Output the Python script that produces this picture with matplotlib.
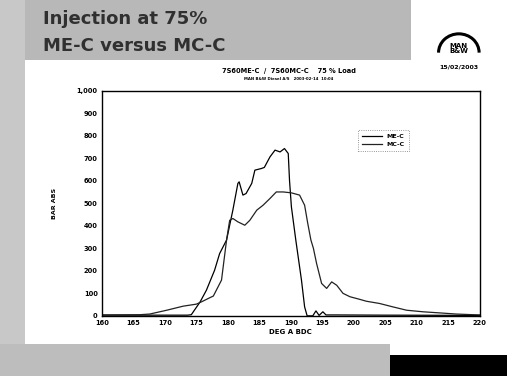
import numpy as np
import matplotlib.pyplot as plt
from matplotlib.patches import Rectangle, Arc

# ME-C: high, short injection
mec_deg = [160, 166, 170, 173.6, 174.2, 175.6, 176.6, 177.9, 178.7, 179.8, 180.8, 181.6, 181.8,
           182.4, 182.9, 183.8, 184.3, 185.3, 185.8, 186.7, 187.5, 188.3, 189.0, 189.6, 189.8,
           190.1, 190.8, 191.7, 192.2, 192.6, 193.5, 194.0, 194.5, 195.1, 195.6, 197, 205, 220]
mec_bar = [3, 3, 3, 3, 5, 62, 114, 203, 277, 337, 470, 589, 596,
           537, 544, 589, 648, 655, 660, 707, 737, 729, 744, 722, 603,
           485, 337, 159, 40, 0, 0, 22, 2, 18, 4, 4, 3, 2]

# MC-C: lower plateau, longer tail
mcc_deg = [160, 166, 167.6, 170.3, 172.9, 175.0, 175.8, 177.1, 177.7, 179.0, 179.8, 180.3, 180.8,
           181.6, 182.7, 183.5, 184.6, 185.6, 186.7, 187.7, 188.8, 190.1, 191.4, 192.2, 192.7,
           193.2, 193.6, 194.1, 194.9, 195.7, 196.5, 197.3, 198.3, 199.4, 201.0, 202.0, 204.1,
           206.2, 208.4, 211.0, 213.7, 216.3, 219, 220]
mcc_bar = [4, 5, 8, 25, 43, 52, 62, 80, 88, 159, 337, 425, 433,
           418, 403, 425, 470, 492, 522, 551, 551, 547, 537, 492, 411,
           337, 300, 233, 144, 122, 151, 136, 100, 85, 73, 65, 55,
           40, 25, 18, 13, 8, 5, 4]

x_ticks = list(range(160, 221, 5))
y_ticks = list(range(0, 1001, 100))

fig = plt.figure(figsize=(5.07, 3.76), dpi=100)
fig.patch.set_facecolor('white')

# halftone-ish header and footer bands
fig.patches.append(Rectangle((0, 0.84), 0.81, 0.16, transform=fig.transFigure,
                             facecolor='#b8b8b8', edgecolor='none', zorder=0))
fig.patches.append(Rectangle((0, 0.0), 0.05, 1.0, transform=fig.transFigure,
                             facecolor='#c8c8c8', edgecolor='none', zorder=0))
fig.patches.append(Rectangle((0, 0.0), 0.77, 0.085, transform=fig.transFigure,
                             facecolor='#bdbdbd', edgecolor='none', zorder=0))
fig.patches.append(Rectangle((0.77, 0.0), 0.23, 0.055, transform=fig.transFigure,
                             facecolor='black', edgecolor='none', zorder=0))

fig.text(0.085, 0.935, 'Injection at 75%', fontsize=13, fontweight='bold', color='#303030')
fig.text(0.085, 0.865, 'ME-C versus MC-C', fontsize=13, fontweight='bold', color='#303030')

# MAN B&W logo
fig.patches.append(Arc((0.905, 0.86), 0.08, 0.10, theta1=0, theta2=180, lw=2.2,
                       color='black', transform=fig.transFigure))
fig.text(0.905, 0.872, 'MAN\nB&W', fontsize=5, fontweight='bold', ha='center', va='center',
         linespacing=0.85)
fig.text(0.905, 0.818, '15/02/2003', fontsize=4.5, fontweight='bold', ha='center')
fig.text(0.57, 0.805, '7S60ME-C  /  7S60MC-C    75 % Load', fontsize=4.8, fontweight='bold', ha='center')
fig.text(0.57, 0.787, 'MAN B&W Diesel A/S   2003-02-14  10:04', fontsize=2.8, fontweight='bold', ha='center')

ax = fig.add_axes([0.201, 0.160, 0.745, 0.598])
ax.plot(mec_deg, mec_bar, color='black', lw=0.9, label='ME-C')
ax.plot(mcc_deg, mcc_bar, color='#222222', lw=0.9, label='MC-C')

ax.set_xlim(160, 220)
ax.set_ylim(0, 1000)
ax.set_xticks(x_ticks)
ax.set_yticks(y_ticks)
ax.set_yticklabels(['{:,}'.format(v) for v in y_ticks])
ax.tick_params(labelsize=4.8, length=0, pad=3)
for lab in ax.get_xticklabels() + ax.get_yticklabels():
    lab.set_fontweight('bold')
ax.set_xlabel('DEG A BDC', fontsize=5, fontweight='bold', labelpad=2)
ax.set_ylabel('BAR ABS', fontsize=4.5, fontweight='bold', labelpad=14)
for s in ax.spines.values():
    s.set_linewidth(1.0)

leg = ax.legend(loc='upper left', bbox_to_anchor=(0.67, 0.84), fontsize=4.5, frameon=True,
                fancybox=False, handlelength=3.2, borderpad=0.6, labelspacing=0.4)
leg.get_frame().set_linestyle(':')
leg.get_frame().set_edgecolor('#555555')
leg.get_frame().set_linewidth(0.6)
for t in leg.get_texts():
    t.set_fontweight('bold')

fig.savefig('out.png', dpi=100)
